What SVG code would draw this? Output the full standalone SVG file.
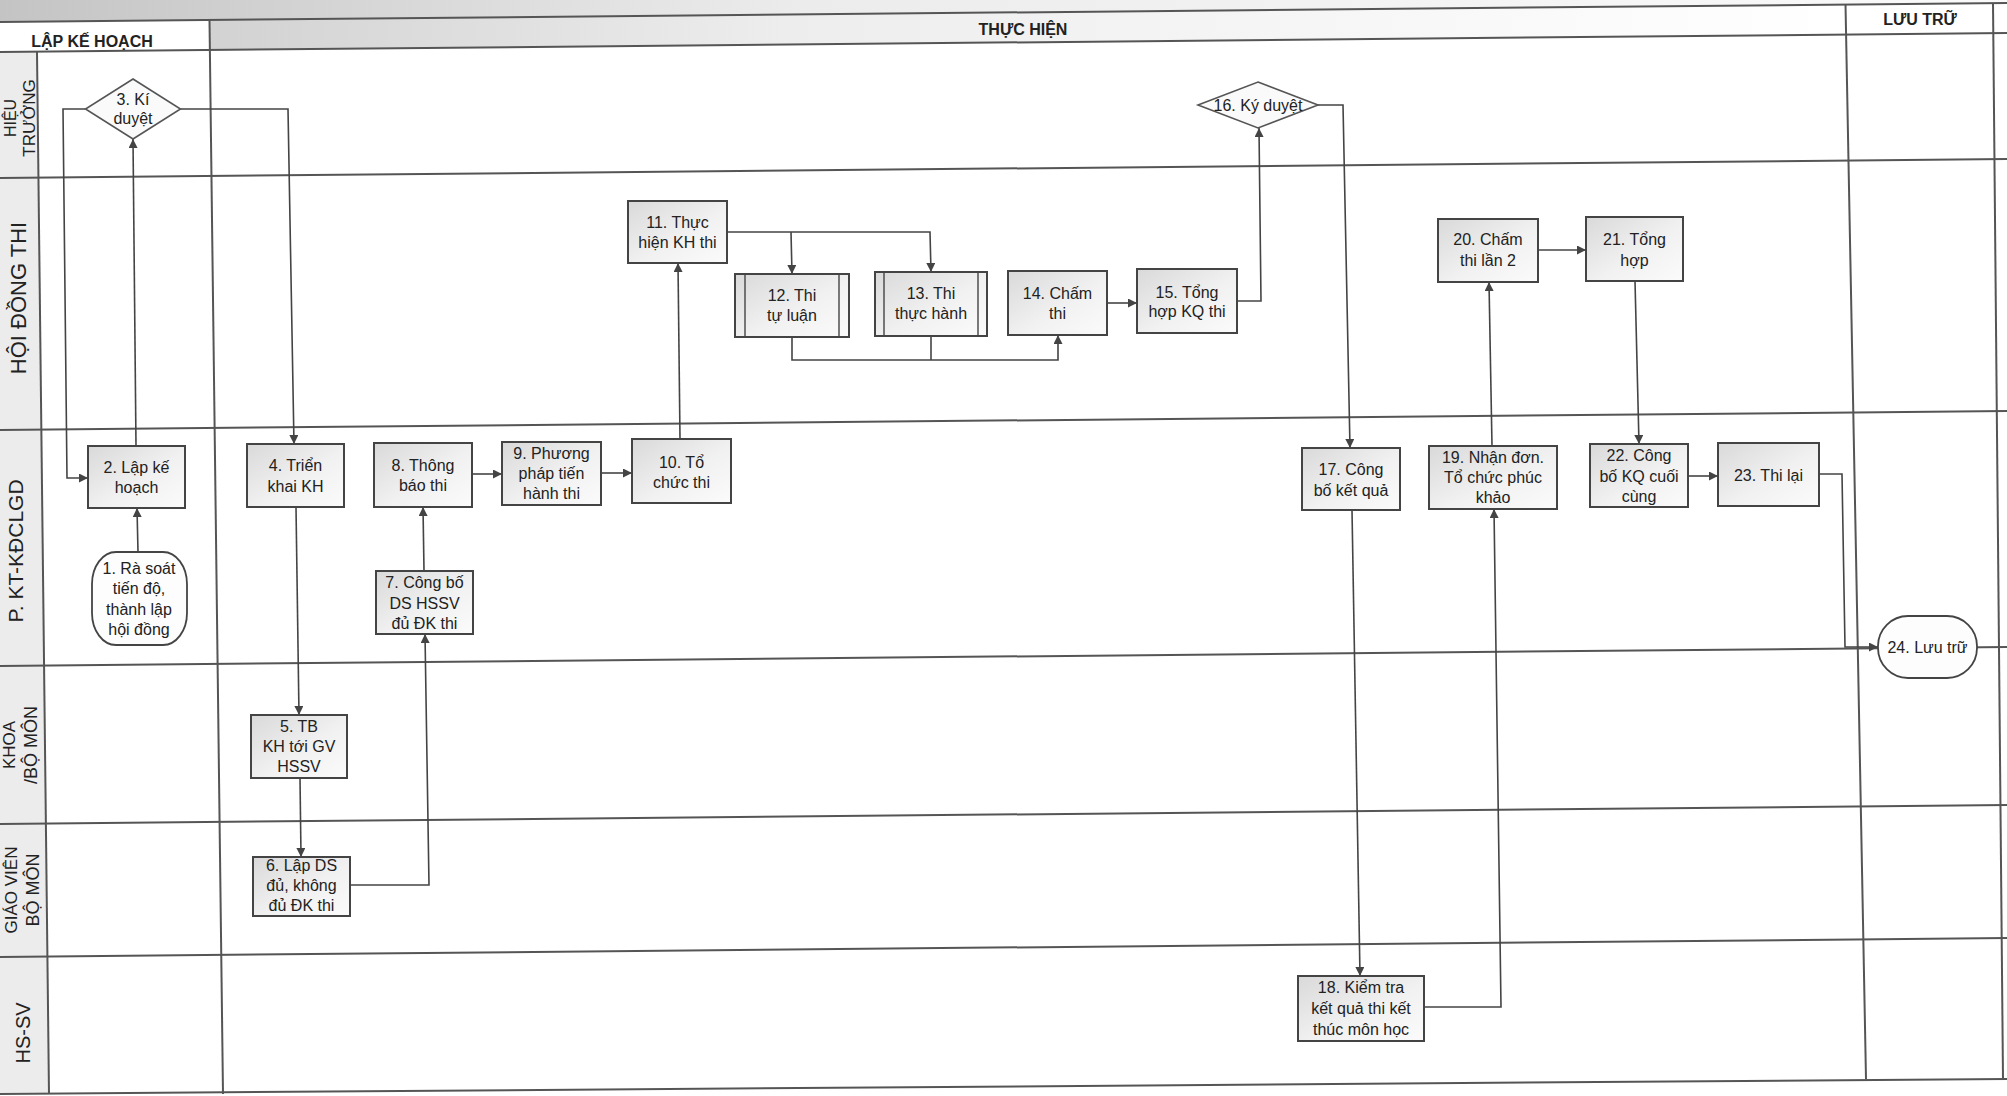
<svg xmlns="http://www.w3.org/2000/svg" width="2007" height="1096" viewBox="0 0 2007 1096">
<defs>
<linearGradient id="boxg" x1="0" y1="0" x2="1" y2="1">
<stop offset="0" stop-color="#d9d9d9"/>
<stop offset="0.55" stop-color="#f1f1f1"/>
<stop offset="1" stop-color="#fbfbfb"/>
</linearGradient>
<linearGradient id="topg" x1="0" y1="0" x2="1" y2="0">
<stop offset="0" stop-color="#c4c4c4"/>
<stop offset="0.4" stop-color="#ececec"/>
<stop offset="1" stop-color="#fafafa"/>
</linearGradient>
<linearGradient id="hdrg" x1="0" y1="0" x2="1" y2="0">
<stop offset="0" stop-color="#d2d2d2"/>
<stop offset="0.35" stop-color="#ededed"/>
<stop offset="1" stop-color="#ffffff"/>
</linearGradient>
<marker id="arr" viewBox="0 0 10 10" refX="10" refY="5" markerWidth="11" markerHeight="9" markerUnits="userSpaceOnUse" orient="auto">
<path d="M0,0 L10,5 L0,10 z" fill="#444"/>
</marker>
</defs>
<style>
.grid{stroke:#555;stroke-width:2;fill:none}
.box{fill:url(#boxg);stroke:#444;stroke-width:2}
.dia{fill:#fafafa;stroke:#555;stroke-width:1.6}
.term{fill:#fdfdfd;stroke:#444;stroke-width:1.8}
.pp{stroke:#444;stroke-width:1.4;fill:none}
.t{font-family:"Liberation Sans",Arial,sans-serif;font-size:16px;fill:#222;text-anchor:middle}
.h{font-family:"Liberation Sans",Arial,sans-serif;font-size:16px;font-weight:bold;fill:#222;text-anchor:middle}
.lane{font-family:"Liberation Sans",Arial,sans-serif;fill:#222;text-anchor:middle}
.c{stroke:#444;stroke-width:1.6;fill:none}
.ca{stroke:#444;stroke-width:1.6;fill:none;marker-end:url(#arr)}
</style>
<rect x="0" y="0" width="2007" height="1096" fill="#ffffff"/>
<g id="background">
<polygon points="0,0 2007,0 2007,3 0,22" fill="url(#topg)"/>
<polygon points="209.5,20 1845.5,4 1846,34 210,50" fill="url(#hdrg)"/>
<polygon points="0,52 37,52 49,1094 0,1094" fill="#ececec"/>
</g>
<g id="grid">
<line class="grid" x1="0" y1="22" x2="2007" y2="3"/>
<line class="grid" x1="0" y1="52" x2="2007" y2="33"/>
<line class="grid" x1="0" y1="178" x2="2007" y2="159"/>
<line class="grid" x1="0" y1="430" x2="2007" y2="411"/>
<line class="grid" x1="0" y1="666" x2="2007" y2="647"/>
<line class="grid" x1="0" y1="824" x2="2007" y2="805"/>
<line class="grid" x1="0" y1="957" x2="2007" y2="938"/>
<line class="grid" x1="0" y1="1094" x2="2007" y2="1079"/>
<line class="grid" x1="37" y1="52" x2="49" y2="1094"/>
<line class="grid" x1="209.5" y1="20" x2="223" y2="1094"/>
<line class="grid" x1="1845.5" y1="4" x2="1866" y2="1079"/>
<line class="grid" x1="1993" y1="3" x2="2003" y2="1079"/>
</g>
<g id="headers">
<text class="h" x="92" y="47">LẬP KẾ HOẠCH</text>
<text class="h" x="1023" y="35">THỰC HIỆN</text>
<text class="h" x="1920" y="25">LƯU TRỮ</text>
</g>
<g id="lanes">
<g transform="translate(16,118) rotate(-90)"><text class="lane" font-size="16">HIỆU</text></g>
<g transform="translate(35,118) rotate(-90)"><text class="lane" font-size="17">TRƯỞNG</text></g>
<g transform="translate(26,298) rotate(-90)"><text class="lane" font-size="22">HỘI ĐỒNG THI</text></g>
<g transform="translate(23,551) rotate(-90)"><text class="lane" font-size="21">P. KT-KĐCLGD</text></g>
<g transform="translate(15,745) rotate(-90)"><text class="lane" font-size="17">KHOA</text></g>
<g transform="translate(37,745) rotate(-90)"><text class="lane" font-size="18">/BỘ MÔN</text></g>
<g transform="translate(17,890) rotate(-90)"><text class="lane" font-size="17">GIÁO VIÊN</text></g>
<g transform="translate(39,890) rotate(-90)"><text class="lane" font-size="18">BỘ MÔN</text></g>
<g transform="translate(30,1033) rotate(-90)"><text class="lane" font-size="20">HS-SV</text></g>
</g>
<g id="connectors">
<line class="ca" x1="138" y1="552" x2="137" y2="508"/>
<line class="ca" x1="136" y1="446" x2="133" y2="139"/>
<polyline class="ca" points="85.5,109 63,109 67,478 88,478"/>
<polyline class="ca" points="180.5,109 288,109 294,444"/>
<line class="ca" x1="296" y1="507" x2="299" y2="715"/>
<line class="ca" x1="300" y1="778" x2="301" y2="857"/>
<polyline class="ca" points="350,885 429,885 425,634"/>
<line class="ca" x1="424" y1="571" x2="423" y2="507"/>
<line class="ca" x1="472" y1="474" x2="502" y2="474"/>
<line class="ca" x1="601" y1="473" x2="632" y2="473"/>
<line class="ca" x1="680" y1="439" x2="678" y2="263"/>
<polyline class="ca" points="727,232 930,232 931,272"/>
<line class="ca" x1="791" y1="232" x2="792" y2="274"/>
<polyline class="ca" points="792,337 792,360 1058,360 1058,335"/>
<line class="c" x1="931" y1="336" x2="931" y2="360"/>
<line class="ca" x1="1107" y1="303" x2="1137" y2="303"/>
<polyline class="ca" points="1237,301 1261,301 1259,128"/>
<polyline class="ca" points="1318,105 1343,105 1350,448"/>
<line class="ca" x1="1352" y1="510" x2="1360" y2="976"/>
<polyline class="ca" points="1424,1007 1501,1007 1494,509"/>
<line class="ca" x1="1492" y1="446" x2="1489" y2="282"/>
<line class="ca" x1="1538" y1="250" x2="1586" y2="250"/>
<line class="ca" x1="1635" y1="281" x2="1639" y2="444"/>
<line class="ca" x1="1688" y1="476" x2="1718" y2="476"/>
<polyline class="ca" points="1819,474 1842,474 1845,647 1878,647"/>
</g>
<g id="n1">
<rect class="term" x="92" y="552" width="95" height="93" rx="24" ry="32"/>
<text class="t" x="139" y="574">1. Rà soát</text>
<text class="t" x="139" y="594">tiến độ,</text>
<text class="t" x="139" y="615">thành lập</text>
<text class="t" x="139" y="635">hội đồng</text>
</g>
<g id="n2">
<rect class="box" x="88" y="446" width="97" height="62"/>
<text class="t" x="136.5" y="473">2. Lập kế</text>
<text class="t" x="136.5" y="493">hoạch</text>
</g>
<g id="n3">
<polygon class="dia" points="133,79 180.5,109 133,139 85.5,109"/>
<text class="t" x="133" y="105" font-size="15">3. Kí</text>
<text class="t" x="133" y="124" font-size="15">duyệt</text>
</g>
<g id="n4">
<rect class="box" x="247" y="444" width="97" height="63"/>
<text class="t" x="295.5" y="471">4. Triển</text>
<text class="t" x="295.5" y="492">khai KH</text>
</g>
<g id="n5">
<rect class="box" x="251" y="715" width="96" height="63"/>
<text class="t" x="299" y="732">5. TB</text>
<text class="t" x="299" y="752">KH tới GV</text>
<text class="t" x="299" y="772">HSSV</text>
</g>
<g id="n6">
<rect class="box" x="253" y="857" width="97" height="59"/>
<text class="t" x="301.5" y="871">6. Lập DS</text>
<text class="t" x="301.5" y="891">đủ, không</text>
<text class="t" x="301.5" y="911">đủ ĐK thi</text>
</g>
<g id="n7">
<rect class="box" x="376" y="571" width="97" height="63"/>
<text class="t" x="424.5" y="588">7. Công bố</text>
<text class="t" x="424.5" y="609">DS HSSV</text>
<text class="t" x="424.5" y="629">đủ ĐK thi</text>
</g>
<g id="n8">
<rect class="box" x="374" y="443" width="98" height="64"/>
<text class="t" x="423" y="471">8. Thông</text>
<text class="t" x="423" y="491">báo thi</text>
</g>
<g id="n9">
<rect class="box" x="502" y="442" width="99" height="63"/>
<text class="t" x="551.5" y="459">9. Phương</text>
<text class="t" x="551.5" y="479">pháp tiến</text>
<text class="t" x="551.5" y="499">hành thi</text>
</g>
<g id="n10">
<rect class="box" x="632" y="439" width="99" height="64"/>
<text class="t" x="681.5" y="468">10. Tổ</text>
<text class="t" x="681.5" y="488">chức thi</text>
</g>
<g id="n11">
<rect class="box" x="628" y="201" width="99" height="62"/>
<text class="t" x="677.5" y="228">11. Thực</text>
<text class="t" x="677.5" y="248">hiện KH thi</text>
</g>
<g id="n12">
<rect class="box" x="735" y="274" width="114" height="63"/>
<line class="pp" x1="745" y1="274" x2="745" y2="337"/>
<line class="pp" x1="839" y1="274" x2="839" y2="337"/>
<text class="t" x="792" y="301">12. Thi</text>
<text class="t" x="792" y="321">tự luận</text>
</g>
<g id="n13">
<rect class="box" x="875" y="272" width="112" height="64"/>
<line class="pp" x1="884" y1="272" x2="884" y2="336"/>
<line class="pp" x1="978" y1="272" x2="978" y2="336"/>
<text class="t" x="931" y="299">13. Thi</text>
<text class="t" x="931" y="319">thực hành</text>
</g>
<g id="n14">
<rect class="box" x="1008" y="271" width="99" height="64"/>
<text class="t" x="1057.5" y="299">14. Chấm</text>
<text class="t" x="1057.5" y="319">thi</text>
</g>
<g id="n15">
<rect class="box" x="1137" y="269" width="100" height="64"/>
<text class="t" x="1187" y="298">15. Tổng</text>
<text class="t" x="1187" y="317">hợp KQ thi</text>
</g>
<g id="n16">
<polygon class="dia" points="1258,82 1318,105 1258,128 1198,105"/>
<text class="t" x="1258" y="111">16. Ký duyệt</text>
</g>
<g id="n17">
<rect class="box" x="1302" y="448" width="98" height="62"/>
<text class="t" x="1351" y="475">17. Công</text>
<text class="t" x="1351" y="496">bố kết quả</text>
</g>
<g id="n18">
<rect class="box" x="1298" y="976" width="126" height="65"/>
<text class="t" x="1361" y="993">18. Kiểm tra</text>
<text class="t" x="1361" y="1014">kết quả thi kết</text>
<text class="t" x="1361" y="1035">thúc môn học</text>
</g>
<g id="n19">
<rect class="box" x="1429" y="446" width="128" height="63"/>
<text class="t" x="1493" y="463">19. Nhận đơn.</text>
<text class="t" x="1493" y="483">Tổ chức phúc</text>
<text class="t" x="1493" y="503">khảo</text>
</g>
<g id="n20">
<rect class="box" x="1438" y="219" width="100" height="63"/>
<text class="t" x="1488" y="245">20. Chấm</text>
<text class="t" x="1488" y="266">thi lần 2</text>
</g>
<g id="n21">
<rect class="box" x="1586" y="217" width="97" height="64"/>
<text class="t" x="1634.5" y="245">21. Tổng</text>
<text class="t" x="1634.5" y="266">hợp</text>
</g>
<g id="n22">
<rect class="box" x="1590" y="444" width="98" height="63"/>
<text class="t" x="1639" y="461">22. Công</text>
<text class="t" x="1639" y="482">bố KQ cuối</text>
<text class="t" x="1639" y="502">cùng</text>
</g>
<g id="n23">
<rect class="box" x="1718" y="443" width="101" height="63"/>
<text class="t" x="1768.5" y="481">23. Thi lại</text>
</g>
<g id="n24">
<rect class="term" x="1878" y="616" width="99" height="62" rx="30" ry="30"/>
<text class="t" x="1927.5" y="653">24. Lưu trữ</text>
</g>
</svg>
